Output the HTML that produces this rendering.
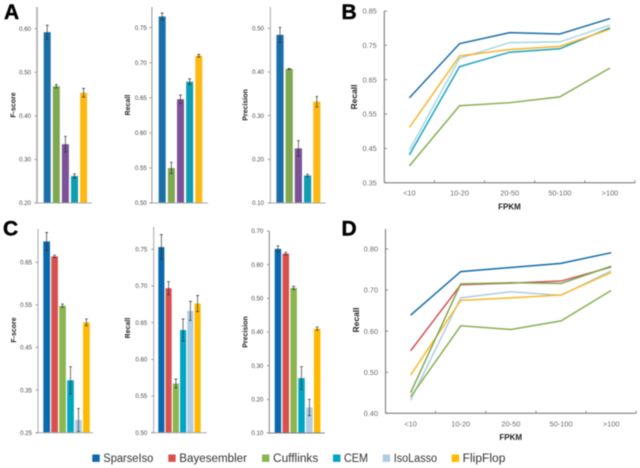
<!DOCTYPE html>
<html lang="en">
<head>
<meta charset="utf-8">
<title>Recall, precision and F-score comparison</title>
<style>
html,body{margin:0;padding:0;background:#fff;width:640px;height:468px;overflow:hidden}
svg{display:block;font-family:"Liberation Sans",sans-serif;filter:blur(0.45px)}
</style>
</head>
<body>
<svg id="chart" width="640" height="468" viewBox="0 0 640 468" xmlns="http://www.w3.org/2000/svg"></svg>
<script>
// ---- bar chart data ----
const methodsA = ['SparseIso','Cufflinks','IsoLasso-purple','CEM','FlipFlop'];
const methodsC = ['SparseIso','Bayesembler','Cufflinks','CEM','IsoLasso','FlipFlop'];
const aFscoreValues = [0.592,0.468,0.335,0.262,0.453];
const aFscoreErrors = [0.016,0.004,0.018,0.005,0.010];
const aRecallValues = [0.766,0.550,0.648,0.673,0.710];
const aRecallErrors = [0.005,0.008,0.006,0.004,0.002];
const aPrecisionValues = [0.485,0.407,0.225,0.163,0.332];
const aPrecisionErrors = [0.017,0.001,0.018,0.003,0.012];
const cFscoreValues = [0.699,0.664,0.548,0.373,0.280,0.509];
const cFscoreErrors = [0.021,0.003,0.004,0.032,0.027,0.008];
const cRecallValues = [0.753,0.697,0.567,0.640,0.666,0.676];
const cRecallErrors = [0.017,0.009,0.006,0.015,0.013,0.011];
const cPrecisionValues = [0.647,0.633,0.531,0.263,0.176,0.410];
const cPrecisionErrors = [0.009,0.004,0.005,0.034,0.024,0.005];
const aFscoreTicks = ['0.20','0.30','0.40','0.50','0.60'];
const aRecallTicks = ['0.50','0.55','0.60','0.65','0.70','0.75'];
const aPrecisionTicks = ['0.10','0.20','0.30','0.40','0.50'];
const cFscoreTicks = ['0.25','0.35','0.45','0.55','0.65'];
const cRecallTicks = ['0.50','0.55','0.60','0.65','0.70','0.75'];
const cPrecisionTicks = ['0.10','0.20','0.30','0.40','0.50','0.60','0.70'];
// ---- line chart data ----
const fpkmCategories = ['<10','10-20','20-50','50-100','>100'];
const bTicks = ['0.35','0.45','0.55','0.65','0.75','0.85'];
const dTicks = ['0.40','0.50','0.60','0.70','0.80'];
const bCufflinks = [0.399,0.574,0.583,0.600,0.684];
const bCEM = [0.431,0.688,0.730,0.740,0.801];
const bIsoLasso = [0.445,0.712,0.758,0.760,0.809];
const bFlipFlop = [0.511,0.719,0.738,0.747,0.797];
const bSparseIso = [0.597,0.755,0.787,0.783,0.828];
const dCufflinksLower = [0.440,0.613,0.604,0.625,0.699];
const dIsoLasso = [0.432,0.681,0.696,0.687,0.747];
const dFlipFlop = [0.493,0.675,0.681,0.688,0.743];
const dBayesembler = [0.552,0.713,0.717,0.722,0.756];
const dCufflinksUpper = [0.450,0.715,0.718,0.716,0.758];
const dSparseIso = [0.639,0.745,0.755,0.765,0.791];
// ---- legend data ----
const legendNames = ['SparseIso','Bayesembler','Cufflinks','CEM','IsoLasso','FlipFlop'];

const NS = 'http://www.w3.org/2000/svg';
const root = document.getElementById('chart');
function make(tag, attrs, text, parent) {
  const el = document.createElementNS(NS, tag);
  for (const k in attrs) el.setAttribute(k, attrs[k]);
  if (text !== undefined) el.textContent = text;
  (parent || root).appendChild(el);
  return el;
}
function linearScale(d0, d1, r0, r1) {
  return v => r0 + (v - d0) * (r1 - r0) / (d1 - d0);
}

function barPanel(o) {
  const g = make('g', {});
  
  
  const first = parseFloat(o.ticks[0]);
  const last = parseFloat(o.ticks[o.ticks.length - 1]);
  const y = linearScale(first, last, o.y0, o.y1);
  o.values.forEach((v, i) => {
    const x = o.barStart + i * o.step;
    const bar = make('rect', {x: x, y: y(v), width: o.barW, height: o.y0 - y(v), fill: o.colors[i]}, undefined, g);
    
    
    const cx = x + o.barW / 2;
    const e = o.errors[i];
    const err = make('path', {
      d: 'M' + cx + ' ' + y(v + e) + 'V' + y(v - e) +
         'M' + (cx - 1.5) + ' ' + y(v + e) + 'h3' +
         'M' + (cx - 1.5) + ' ' + y(v - e) + 'h3',
      stroke: '#333', 'stroke-width': 0.7, fill: 'none'}, undefined, g);
    
    
  });
  const axisColor = o.axisColor || '#a6a6a6';
  const axisW = o.axisW || 1;
  const yAxis = make('line', {x1: o.axisX, x2: o.axisX, y1: o.top, y2: o.y0, stroke: axisColor, 'stroke-width': axisW}, undefined, g);
  
  
  const xAxis = make('line', {x1: o.axisX - 2.5, x2: o.xEnd, y1: o.y0, y2: o.y0, stroke: axisColor, 'stroke-width': 1}, undefined, g);
  
  
  o.ticks.forEach(t => {
    const ty = y(parseFloat(t));
    const mark = make('line', {x1: o.axisX - 2.5, x2: o.axisX, y1: ty, y2: ty, stroke: '#8a8a8a', 'stroke-width': 0.8}, undefined, g);
    
    
    const label = make('text', {x: o.labelX, y: ty + 2.2, 'text-anchor': 'end', 'font-size': 6.1, fill: '#484848'}, t, g);
    
    
  });
  const title = make('text', {
    x: 0, y: 0, transform: 'translate(' + o.titleX + ' ' + o.titleY + ') rotate(-90)',
    'text-anchor': 'middle', 'font-size': 7, 'font-weight': 'bold', fill: '#222'}, o.title, g);
  
  
}

function linePanel(o) {
  const g = make('g', {});
  
  
  const first = parseFloat(o.ticks[0]);
  const last = parseFloat(o.ticks[o.ticks.length - 1]);
  const y = linearScale(first, last, o.y0, o.y1);
  const x = i => o.axisX + (i + 0.5) * o.band;
  const yAxis = make('line', {x1: o.axisX, x2: o.axisX, y1: o.top, y2: o.y0, stroke: '#707070', 'stroke-width': 1}, undefined, g);
  
  
  const xAxis = make('line', {x1: o.axisX, x2: o.axisX + o.band * o.cats.length, y1: o.y0, y2: o.y0, stroke: '#707070', 'stroke-width': 1}, undefined, g);
  
  
  o.ticks.forEach(t => {
    const ty = y(parseFloat(t));
    const mark = make('line', {x1: o.axisX, x2: o.axisX + 2.7, y1: ty, y2: ty, stroke: '#707070', 'stroke-width': 0.8}, undefined, g);
    
    
    const label = make('text', {x: o.labelX, y: ty + 2.6, 'text-anchor': 'end', 'font-size': 7.3, fill: '#6a6a6a'}, t, g);
    
    
  });
  o.cats.forEach((c, i) => {
    const tx = o.axisX + (i + 1) * o.band;
    const mark = make('line', {x1: tx, x2: tx, y1: o.y0 - 2.5, y2: o.y0, stroke: '#707070', 'stroke-width': 0.8}, undefined, g);
    
    
    const label = make('text', {x: x(i), y: o.y0 + 13, 'text-anchor': 'middle', 'font-size': 7.4, fill: '#6a6a6a'}, c, g);
    
    
  });
  o.series.forEach(s => {
    const pts = s.values.map((v, i) => x(i) + ',' + y(v)).join(' ');
    const line = make('polyline', {points: pts, fill: 'none', stroke: s.color, 'stroke-width': 1.5, 'stroke-linejoin': 'miter'}, undefined, g);
    
    
  });
  const yt = make('text', {
    x: 0, y: 0, transform: 'translate(' + o.titleX + ' ' + o.titleY + ') rotate(-90)',
    'text-anchor': 'middle', 'font-size': 8.5, 'font-weight': 'bold', fill: '#222'}, 'Recall', g);
  
  
  const xt = make('text', {x: o.fpkmX, y: o.fpkmY, 'text-anchor': 'middle', 'font-size': 8, 'font-weight': 'bold', fill: '#222'}, 'FPKM', g);
  
  
}

const colA = ['#1b6fa8','#7fa850','#7b5296','#0f9db4','#fdb913'];
const colC = ['#0a69ad','#d9514e','#8ab650','#00a5c4','#afcce4','#ffb900'];

barPanel({name:'panel-a-fscore', methods:methodsA, values:aFscoreValues, errors:aFscoreErrors, ticks:aFscoreTicks, colors:colA,
  y0:203, y1:28.7, top:7, axisX:37, xEnd:92, barStart:43.7, barW:7, step:9.1, labelX:31, title:'F-score', titleX:15.5, titleY:105, axisW:1.5});
barPanel({name:'panel-a-recall', methods:methodsA, values:aRecallValues, errors:aRecallErrors, ticks:aRecallTicks, colors:colA,
  y0:203, y1:27.7, top:7, axisX:151.9, xEnd:208, barStart:158.7, barW:7, step:9.15, labelX:146.8, title:'Recall', titleX:130, titleY:105, axisW:1.2});
barPanel({name:'panel-a-precision', methods:methodsA, values:aPrecisionValues, errors:aPrecisionErrors, ticks:aPrecisionTicks, colors:colA,
  y0:203, y1:28.3, top:7, axisX:270.3, xEnd:325.7, barStart:276.4, barW:7.2, step:9.2, labelX:264, title:'Precision', titleX:247.5, titleY:105});
barPanel({name:'panel-c-fscore', methods:methodsC, values:cFscoreValues, errors:cFscoreErrors, ticks:cFscoreTicks, colors:colC,
  y0:432.7, y1:262.3, top:229, axisX:38, xEnd:93, barStart:43.3, barW:6.7, step:7.95, labelX:32, title:'F-score', titleX:16, titleY:330});
barPanel({name:'panel-c-recall', methods:methodsC, values:cRecallValues, errors:cRecallErrors, ticks:cRecallTicks, colors:colC,
  y0:432.7, y1:249.3, top:227, axisX:153.7, xEnd:206.7, barStart:158.3, barW:6.1, step:7.25, labelX:147.3, title:'Recall', titleX:130, titleY:328});
barPanel({name:'panel-c-precision', methods:methodsC, values:cPrecisionValues, errors:cPrecisionErrors, ticks:cPrecisionTicks, colors:colC,
  y0:433, y1:231, top:231, axisX:269.3, xEnd:324.7, barStart:274.7, barW:6.5, step:7.85, labelX:263.3, title:'Precision', titleX:247.5, titleY:332, axisColor:'#808080'});

linePanel({name:'panel-b-recall-by-fpkm', cats:fpkmCategories, ticks:bTicks, y0:182.7, y1:11, top:11, axisX:384.3, band:50.15, labelX:376.7,
  titleX:357, titleY:97, fpkmX:509.5, fpkmY:209.5, series:[
    {label:'cufflinks', values:bCufflinks, color:'#86ad55'},
    {label:'isolasso', values:bIsoLasso, color:'#a9d6e2'},
    {label:'cem', values:bCEM, color:'#1ba3bf'},
    {label:'flipflop', values:bFlipFlop, color:'#f7b52a'},
    {label:'sparseiso', values:bSparseIso, color:'#1b6ca8'}]});
linePanel({name:'panel-d-recall-by-fpkm', cats:fpkmCategories, ticks:dTicks, y0:413.3, y1:249, top:229, axisX:385.5, band:50.15, labelX:378,
  titleX:359, titleY:320, fpkmX:510.7, fpkmY:440, series:[
    {label:'isolasso', values:dIsoLasso, color:'#adcde4'},
    {label:'cufflinks-lower', values:dCufflinksLower, color:'#86b054'},
    {label:'flipflop', values:dFlipFlop, color:'#f9b928'},
    {label:'bayesembler', values:dBayesembler, color:'#d4555a'},
    {label:'cufflinks-upper', values:dCufflinksUpper, color:'#82a850'},
    {label:'sparseiso', values:dSparseIso, color:'#0f6cab'}]});

// panel letters
const letters = [['A',4,19],['B',341.5,19],['C',3,235.7],['D',341.5,235.7]];
letters.forEach(l => {
  const t = make('text', {x:l[1], y:l[2], 'font-size':21, 'font-weight':'bold', fill:'#000', stroke:'#000', 'stroke-width':0.4}, l[0]);
  
  
});

// legend
const legendBoxX = [92.3,168.3,262,333,382.7,451.7];
const legendTextW = [50,67.7,45.3,24,43.4,42.7];
legendNames.forEach((n, i) => {
  const g = make('g', {});
  
  
  const sw = make('rect', {x:legendBoxX[i], y:454.5, width:7.4, height:7.4, fill:colC[i]}, undefined, g);
  
  
  const t = make('text', {x:legendBoxX[i] + 11, y:462.2, 'font-size':11.5, fill:'#333',
    textLength:legendTextW[i], lengthAdjust:'spacingAndGlyphs'}, n, g);
  
  
});
</script>
</body>
</html>
